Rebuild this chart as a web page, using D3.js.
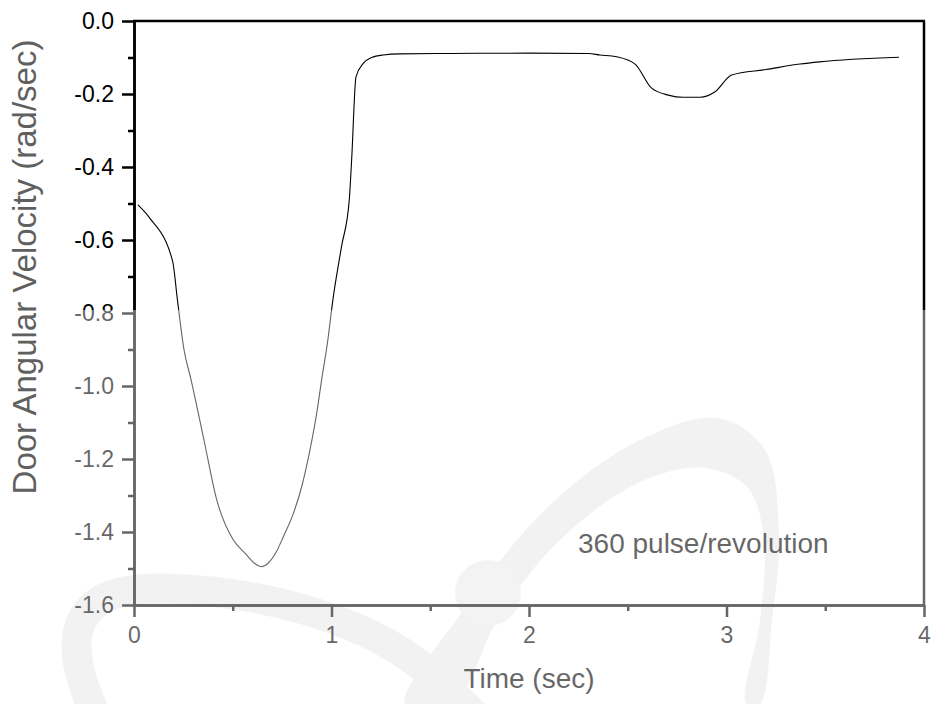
<!DOCTYPE html>
<html>
<head>
<meta charset="utf-8">
<script src="https://cdn.jsdelivr.net/npm/d3@7"></script>
<style>
  html, body { margin: 0; padding: 0; background: #fff; }
  svg { display: block; }
  text { font-family: "Liberation Sans", Arial, Helvetica, sans-serif; }
</style>
</head>
<body>
<svg id="chart" width="936" height="704"></svg>
<script>
// ---- data ----
const time = [0.02, 0.08, 0.196, 0.219, 0.253, 0.289, 0.355, 0.419, 0.503, 0.562, 0.621, 0.645, 0.68, 0.72, 0.756, 0.807, 0.849, 0.891, 0.925, 0.95, 0.98, 1.007, 1.05, 1.09, 1.102, 1.124, 1.161, 1.203, 1.262, 1.347, 1.6, 2.0, 2.3, 2.359, 2.443, 2.537, 2.621, 2.705, 2.781, 2.866, 2.942, 3.026, 3.2, 3.372, 3.47, 3.873];
const velocity = [-0.504, -0.54, -0.659, -0.76, -0.9, -0.983, -1.15, -1.312, -1.422, -1.458, -1.49, -1.495, -1.485, -1.455, -1.413, -1.349, -1.276, -1.175, -1.075, -0.983, -0.88, -0.764, -0.62, -0.49, -0.38, -0.153, -0.116, -0.1, -0.093, -0.09, -0.089, -0.088, -0.089, -0.093, -0.098, -0.118, -0.184, -0.203, -0.209, -0.209, -0.194, -0.148, -0.133, -0.118, -0.112, -0.0995];
const xMajorTicks = [0, 1, 2, 3, 4];
const xMinorTicks = [0.5, 1.5, 2.5, 3.5];
const yMajorTicks = [0.0, -0.2, -0.4, -0.6, -0.8, -1.0, -1.2, -1.4, -1.6];
const yMinorTicks = [-0.1, -0.3, -0.5, -0.7, -0.9, -1.1, -1.3, -1.5];
const xTitle = "Time (sec)";
const yTitle = "Door Angular Velocity (rad/sec)";
const annotation = "360 pulse/revolution";

// ---- layout ----
const svg = d3.select("#chart");
const L = 134, R = 924, T = 21, B = 605;
const x = d3.scaleLinear().domain([0, 4]).range([L, R]);
const y = d3.scaleLinear().domain([-1.6, 0]).range([B, T]);

// ---- watermark (background) ----
const wm = svg.append("g").attr("class", "watermark");
const wmColor = "#e9e9e9";
const swoop = d3.line().curve(d3.curveBasis);
wm.append("path")
  .attr("d", swoop([[98, 720], [80, 680], [72, 630], [100, 592], [165, 586], [260, 596], [350, 622], [420, 660], [480, 720]]))
  .attr("fill", "none").attr("stroke", wmColor).attr("stroke-width", 30).attr("stroke-linecap", "butt");
const closed = d3.line().curve(d3.curveCatmullRomClosed);
wm.append("path")
  .attr("d", closed([[405, 704], [460, 615], [550, 505], [640, 440], [718, 418], [765, 450], [779, 540], [772, 620], [760, 704], [746, 704], [760, 620], [764, 540], [748, 488], [705, 468], [640, 482], [560, 540], [500, 615], [452, 704]]))
  .attr("fill", wmColor);
wm.append("circle").attr("cx", 488).attr("cy", 593).attr("r", 33).attr("fill", "#ebebeb");

// ---- axes ----
const fmt = d => d.toFixed(1);
const axisStroke = 2.5;

const gy = svg.append("g").attr("transform", `translate(${L},0)`)
  .call(d3.axisLeft(y).tickValues(yMajorTicks).tickFormat(fmt).tickSize(12).tickSizeOuter(0).tickPadding(8));
const gyMinor = svg.append("g").attr("transform", `translate(${L},0)`)
  .call(d3.axisLeft(y).tickValues(yMinorTicks).tickFormat("").tickSize(6).tickSizeOuter(0));
const gx = svg.append("g").attr("transform", `translate(0,${B})`)
  .call(d3.axisBottom(x).tickValues(xMajorTicks).tickFormat(d3.format("d")).tickSize(12).tickSizeOuter(0).tickPadding(10));
const gxMinor = svg.append("g").attr("transform", `translate(0,${B})`)
  .call(d3.axisBottom(x).tickValues(xMinorTicks).tickFormat("").tickSize(6).tickSizeOuter(0));

[gy, gyMinor, gx, gxMinor].forEach(g => {
  g.attr("font-size", null);
  g.selectAll("path, line").attr("stroke", "#000").attr("stroke-width", axisStroke);
  g.selectAll("text").attr("fill", "#000").attr("font-size", 23)
    .style("font-family", '"Liberation Sans", Arial, sans-serif');
});

// top & right frame
svg.append("line").attr("x1", L - 1).attr("x2", R + 1).attr("y1", T).attr("y2", T)
  .attr("stroke", "#000").attr("stroke-width", axisStroke);
svg.append("line").attr("x1", R).attr("x2", R).attr("y1", T).attr("y2", B)
  .attr("stroke", "#000").attr("stroke-width", axisStroke);

// ---- data line ----
const pts = time.map((t, i) => [t, velocity[i]]);
svg.append("path")
  .attr("d", d3.line().x(d => x(d[0])).y(d => y(d[1])).curve(d3.curveMonotoneX)(pts))
  .attr("fill", "none").attr("stroke", "#000").attr("stroke-width", 1.1);

// ---- annotation & x title ----
svg.append("text").attr("x", 578).attr("y", 553)
  .attr("font-size", 28).attr("fill", "#000").text(annotation);
svg.append("text").attr("x", (L + R) / 2).attr("y", 688).attr("text-anchor", "middle")
  .attr("font-size", 28).attr("fill", "#000").text(xTitle);

// ---- watermark fade overlay on lower part ----
svg.append("rect").attr("x", 0).attr("y", 310).attr("width", 936).attr("height", 394)
  .attr("fill", "#fff").attr("opacity", 0.4);

// ---- y title ----
svg.append("text")
  .attr("transform", `translate(36, ${267}) rotate(-90)`)
  .attr("text-anchor", "middle")
  .attr("font-size", 33).attr("fill", "#606060").text(yTitle);
</script>
</body>
</html>
